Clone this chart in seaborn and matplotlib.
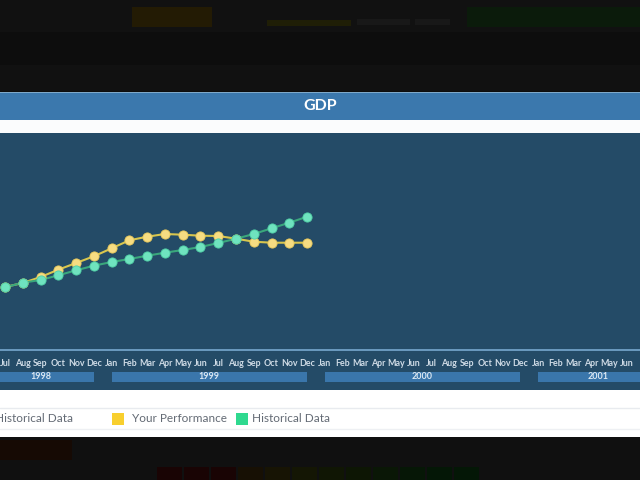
import matplotlib
matplotlib.use("Agg")
import matplotlib.pyplot as plt
from matplotlib.patches import Rectangle
import seaborn as sns
import pandas as pd

# ---------------- data ----------------
months = ["Jan", "Feb", "Mar", "Apr", "May", "Jun",
          "Jul", "Aug", "Sep", "Oct", "Nov", "Dec"]
# visible timeline: Jul 1998 .. Jun 2001 (index 0 = Jul 1998)
tick_labels = [months[(6 + i) % 12] for i in range(36)]
years = ["1998", "1999", "2000", "2001"]
year_start_idx = [-6, 6, 18, 30]
year_end_idx = [5, 17, 29, 41]
year_label_pos = [2.0, 11.5, 23.5, 33.4]

perf_idx = list(range(18))
your_performance = [63.0, 67.0, 73.0, 80.3, 87.0, 93.7, 101.7, 109.7, 113.3,
                    116.0, 115.3, 114.3, 114.0, 111.3, 108.3, 107.3, 107.3, 107.3]
historical_data = [62.7, 67.3, 70.0, 74.7, 79.7, 84.3, 88.0, 91.0, 94.3,
                   97.3, 100.0, 103.0, 107.0, 111.3, 116.0, 121.7, 127.3, 133.3]

df = pd.DataFrame({
    "month": perf_idx * 2,
    "value": your_performance + historical_data,
    "series": ["Your Performance"] * 18 + ["Historical Data"] * 18,
})

# ---------------- style ----------------
sns.set_theme(style="white")
plt.rcParams["font.family"] = ["Lato", "DejaVu Sans"]

NAVY = "#244b67"
BAR = "#3b78ad"
YEARBAR = "#3a76ab"
YEL_LINE = "#d8c64e"
YEL_PT = "#f6dc82"
GRN_LINE = "#3aa77c"
GRN_PT = "#6fe3bf"
AXIS = "#78a8cf"
LEG_TXT = "#636a74"

fig = plt.figure(figsize=(6.4, 4.8), dpi=100)
fig.patch.set_facecolor("#0d0d0d")

# background panel (pixel coordinates)
bg = fig.add_axes([0, 0, 1, 1], zorder=0)
bg.set_xlim(0, 640)
bg.set_ylim(480, 0)
bg.axis("off")
# faint dimmed UI in the dark overlay
bg.add_patch(Rectangle((0, 0), 640, 32, color="#111111", lw=0))
bg.add_patch(Rectangle((0, 65), 640, 26, color="#111111", lw=0))
bg.add_patch(Rectangle((132, 7), 80, 20, color="#231b04", lw=0))
bg.add_patch(Rectangle((267, 20), 84, 6, color="#1f1e06", lw=0))
bg.add_patch(Rectangle((357, 19), 53, 6, color="#181818", lw=0))
bg.add_patch(Rectangle((415, 19), 35, 6, color="#181818", lw=0))
bg.add_patch(Rectangle((467, 7), 173, 20, color="#0b1b0b", lw=0))
bg.add_patch(Rectangle((0, 437), 640, 43, color="#101010", lw=0))
bg.add_patch(Rectangle((0, 440), 72, 20, color="#160a04", lw=0))
for i, c in enumerate(["#190404", "#190404", "#190404", "#171004", "#171404",
                       "#141604", "#101604", "#0d1604", "#0a1706", "#061706", "#041706", "#041706"]):
    bg.add_patch(Rectangle((157 + i * 27, 467), 25, 13, color=c, lw=0))
# title bar
bg.add_patch(Rectangle((0, 91.5), 640, 1.5, color="#7fa9c9", lw=0))
bg.add_patch(Rectangle((0, 93), 640, 27, color=BAR, lw=0))
bg.add_patch(Rectangle((0, 120), 640, 13, color="#fbfcfd", lw=0))
# plot area
bg.add_patch(Rectangle((0, 133), 640, 257, color=NAVY, lw=0))
# legend strip
bg.add_patch(Rectangle((0, 390), 640, 47, color="#ffffff", lw=0))
bg.plot([0, 640], [408, 408], color="#e8ebef", lw=1)
bg.plot([0, 640], [429, 429], color="#eef0f3", lw=1)
bg.text(320, 105.5, "GDP", color="white", fontsize=11.5, fontweight="bold",
        ha="center", va="center")

# legend
bg.add_patch(Rectangle((112, 413), 12, 12, color="#f8cf2e", lw=0))
bg.text(132, 419, "Your Performance", color=LEG_TXT, fontsize=8.5,
        ha="left", va="center")
bg.add_patch(Rectangle((236, 413), 12, 12, color="#2fd98f", lw=0))
bg.text(252, 419, "Historical Data", color=LEG_TXT, fontsize=8.5,
        ha="left", va="center")
bg.text(73, 419, "Show Historical Data", color=LEG_TXT, fontsize=8.5,
        ha="right", va="center")

# ---------------- chart ----------------
x0 = -5 / 17.77
x1 = 635 / 17.77
ax = fig.add_axes([0, (480 - 350) / 480, 1, (350 - 133) / 480], zorder=2)
ax.set_facecolor("none")
sns.lineplot(data=df, x="month", y="value", hue="series",
             hue_order=["Your Performance", "Historical Data"],
             palette=[YEL_LINE, GRN_LINE], linewidth=1.5, legend=False, ax=ax)
sns.scatterplot(x=perf_idx, y=your_performance, color=YEL_PT, s=44,
                edgecolor="#e9c95a", linewidth=0.6, ax=ax, zorder=3)
sns.scatterplot(x=perf_idx, y=historical_data, color=GRN_PT, s=44,
                edgecolor="#4fcfa5", linewidth=0.6, ax=ax, zorder=4)
ax.set_xlim(x0, x1)
ax.set_ylim(0, 217)
ax.set_xlabel("")
ax.set_ylabel("")
ax.set_yticks([])
ax.set_xticks(range(36))
ax.set_xticklabels(tick_labels, fontweight="bold")
ax.tick_params(axis="x", direction="out", length=4.5, width=1, color=AXIS,
               labelcolor="#cfdbe6", labelsize=6.4, pad=2.3)
for s in ["top", "left", "right"]:
    ax.spines[s].set_visible(False)
ax.spines["bottom"].set_color(AXIS)
ax.spines["bottom"].set_linewidth(1.2)

# year bands
yb = fig.add_axes([0, (480 - 390) / 480, 1, 40 / 480], zorder=1, sharex=ax)
yb.set_facecolor("none")
yb.set_ylim(40, 0)
yb.axis("off")
for name, s, e, lp in zip(years, year_start_idx, year_end_idx, year_label_pos):
    yb.fill_between([s, e], 21.7, 31.7, color=YEARBAR, lw=0)
    yb.text(lp, 26.7, name, color="#dce8f2", fontsize=6.5, fontweight="bold",
            ha="center", va="center")
yb.set_xlim(x0, x1)

fig.savefig("out.png", dpi=100)
